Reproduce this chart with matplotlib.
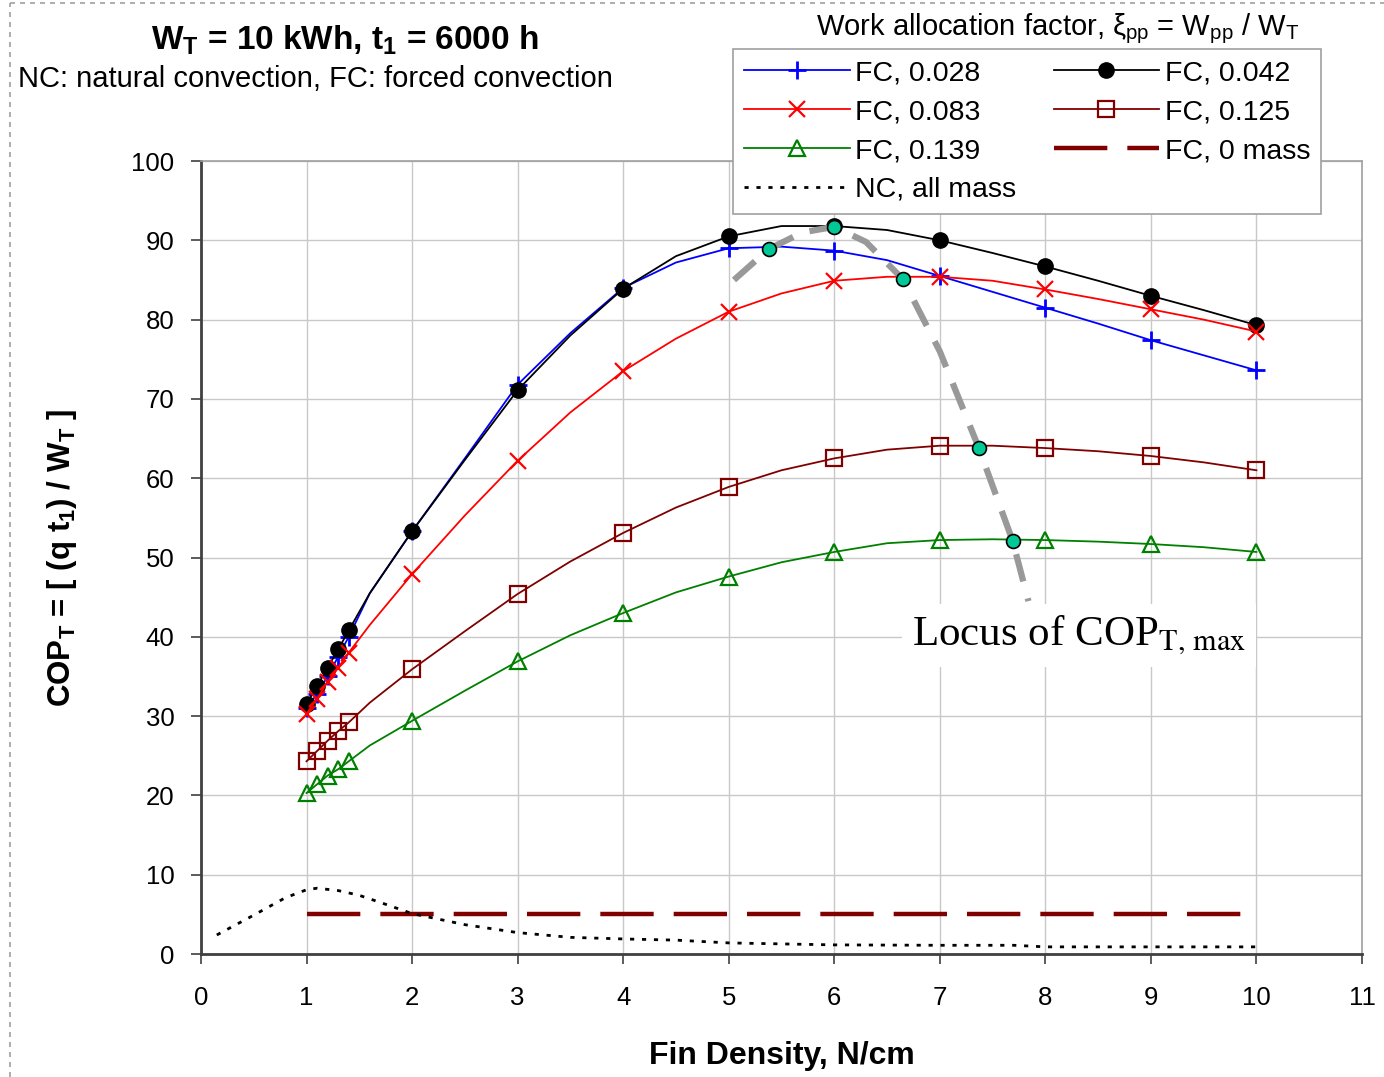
#!/usr/bin/env python3
"""COP_T versus fin density for forced and natural convection."""

import matplotlib
matplotlib.use('Agg')
import matplotlib.pyplot as plt
from matplotlib.lines import Line2D

plt.rcParams['font.family'] = ['Liberation Sans', 'DejaVu Sans']
plt.rcParams['mathtext.fontset'] = 'custom'
plt.rcParams['mathtext.rm'] = 'Liberation Sans'
plt.rcParams['mathtext.it'] = 'Liberation Sans'
plt.rcParams['mathtext.bf'] = 'Liberation Sans:bold'

# Fin density grid for the forced convection curves (N/cm)
fin_density = [1.0, 1.1, 1.2, 1.3, 1.4, 1.6, 2.0, 2.5, 3.0, 3.5, 4.0, 4.5, 5.0,
               5.5, 6.0, 6.5, 7.0, 7.5, 8.0, 8.5, 9.0, 9.5, 10.0]
marked = [1.0, 1.1, 1.2, 1.3, 1.4, 2.0, 3.0, 4.0, 5.0, 6.0, 7.0, 8.0, 9.0, 10.0]

cop_028 = [31.0, 32.8, 35.0, 37.5, 40.0, 45.5, 53.3, 62.5, 71.8, 78.3, 84.0, 87.2,
           89.0, 89.2, 88.7, 87.5, 85.5, 83.5, 81.5, 79.5, 77.4, 75.5, 73.6]
cop_042 = [31.5, 33.8, 36.1, 38.4, 40.8, 45.5, 53.3, 62.3, 71.1, 78.0, 83.9, 88.0,
           90.5, 91.8, 91.8, 91.3, 90.0, 88.4, 86.7, 84.9, 83.0, 81.2, 79.3]
cop_083 = [30.3, 32.2, 34.3, 36.1, 38.0, 41.5, 47.9, 55.3, 62.2, 68.3, 73.5, 77.6,
           81.0, 83.3, 84.9, 85.4, 85.4, 84.9, 83.8, 82.6, 81.3, 80.0, 78.5]
cop_125 = [24.3, 25.6, 26.9, 28.1, 29.2, 31.7, 35.9, 40.7, 45.4, 49.5, 53.1, 56.3,
           58.9, 61.0, 62.5, 63.6, 64.1, 64.1, 63.8, 63.4, 62.8, 62.0, 61.0]
cop_139 = [20.3, 21.4, 22.5, 23.3, 24.3, 26.3, 29.4, 33.2, 36.9, 40.2, 43.0, 45.6,
           47.6, 49.4, 50.7, 51.8, 52.2, 52.3, 52.2, 52.0, 51.7, 51.3, 50.7]

# FC with zero mass
zero_mass_x = [1.0, 10.0]
zero_mass_y = [5.0, 5.0]

# NC, all mass
nc_x = [0.15, 0.5, 0.8, 1.0, 1.1, 1.3, 1.5, 1.7, 2.0, 2.5, 3.0, 3.5, 4.0, 4.5,
        5.0, 6.0, 7.0, 7.7, 8.0, 9.0, 10.0]
nc_y = [2.4, 4.9, 7.1, 8.1, 8.3, 8.0, 7.4, 6.5, 5.1, 3.7, 2.7, 2.1, 1.9, 1.75,
        1.4, 1.15, 1.1, 1.1, 0.9, 0.9, 0.9]

# Locus of COP_T,max
locus_x = [5.05, 5.38, 5.7, 6.0, 6.3, 6.65, 7.0, 7.37, 7.69, 7.84]
locus_y = [85.0, 88.9, 91.0, 91.7, 89.8, 85.1, 76.0, 63.8, 52.1, 44.5]
peak_x = [5.38, 6.0, 6.65, 7.37, 7.69]
peak_y = [88.9, 91.7, 85.1, 63.8, 52.1]

x_ticks = list(range(0, 12))
y_ticks = list(range(0, 101, 10))


def main():
    fig = plt.figure(figsize=(13.84, 10.77), dpi=100)
    ax = fig.add_axes([0.1452, 0.1142, 0.8389, 0.7363])

    mark_idx = [fin_density.index(v) for v in marked]
    lw = 1.3
    series = [
        (cop_028, '#0000FF', dict(marker='+', ms=13, mew=2.0, mfc='none')),
        (cop_042, 'black', dict(marker='o', ms=11, mfc='black')),
        (cop_083, '#FF0000', dict(marker='x', ms=11, mew=1.6)),
        (cop_125, '#800000', dict(marker='s', ms=11, mew=1.6, mfc='none')),
        (cop_139, '#008000', dict(marker='^', ms=11, mew=1.6, mfc='none')),
    ]
    lines = []
    for y, c, mk in series:
        ln, = ax.plot(fin_density, y, color=c, lw=lw, markevery=mark_idx,
                      mec=c, zorder=4, **mk)
        lines.append(ln)

    ln_zero, = ax.plot(zero_mass_x, zero_mass_y, color='#800000', lw=3.2,
                       dashes=(12, 4.5), zorder=3)
    ln_nc, = ax.plot(nc_x, nc_y, color='black', lw=2.0, dashes=(1.5, 2.8), zorder=3)

    ax.plot(locus_x, locus_y, color='#999999', lw=4.5, dashes=(4.5, 2.8),
            solid_capstyle='butt', zorder=5)
    ax.plot(peak_x, peak_y, ls='none', marker='o', ms=10, mfc='#00C896',
            mec='black', mew=1.2, zorder=6)

    ax.text(8.32, 40.2, r'Locus of COP$_{\mathrm{T,\,max}}$', ha='center', va='center',
            fontsize=31, family=['Liberation Serif', 'DejaVu Serif'],
            math_fontfamily='stix', zorder=7,
            bbox=dict(facecolor='white', edgecolor='none', pad=7))

    ax.set_xlim(0, 11)
    ax.set_ylim(0, 100)
    ax.set_xticks(x_ticks)
    ax.set_yticks(y_ticks)
    ax.grid(True, color='#C8C8C8', lw=1.0)
    ax.set_axisbelow(True)
    ax.tick_params(labelsize=18.5, length=7, width=1.2, color='#404040')
    ax.tick_params(axis='y', pad=12)
    ax.tick_params(axis='x', pad=16)
    for side in ['left', 'bottom']:
        ax.spines[side].set_color('#404040')
        ax.spines[side].set_linewidth(2.0)
    for side in ['top', 'right']:
        ax.spines[side].set_color('#A0A0A0')
        ax.spines[side].set_linewidth(1.2)

    ax.set_xlabel('Fin Density, N/cm', fontsize=23, fontweight='bold', labelpad=22)
    ax.set_ylabel(r'COP$_\mathbf{T}$ = [ (q t$_\mathbf{1}$) / W$_\mathbf{T}$ ]',
                  fontsize=22.5, fontweight='bold', labelpad=38)

    fig.text(0.249, 0.963, r'W$_\mathbf{T}$ = 10 kWh, t$_\mathbf{1}$ = 6000 h',
             ha='center', va='center', fontsize=24, fontweight='bold')
    fig.text(0.013, 0.927, 'NC: natural convection, FC: forced convection',
             ha='left', va='center', fontsize=21)
    fig.text(0.764, 0.973, r'Work allocation factor, $\xi_{pp}$ = W$_{pp}$ / W$_T$',
             ha='center', va='center', fontsize=21)

    handles = [lines[0], lines[2], lines[4], ln_nc, lines[1], lines[3], ln_zero]
    labels = ['FC, 0.028', 'FC, 0.083', 'FC, 0.139', 'NC, all mass',
              'FC, 0.042', 'FC, 0.125', 'FC, 0 mass']
    leg = fig.legend(handles, labels, loc='upper left',
                     bbox_to_anchor=(0.5296, 0.9545), borderaxespad=0.0,
                     ncol=2, fontsize=20.5,
                     handlelength=3.7, handletextpad=0.2, columnspacing=1.3,
                     labelspacing=0.45, borderpad=0.4, fancybox=False,
                     framealpha=1.0, edgecolor='#A0A0A0', markerscale=1.0)
    leg.get_frame().set_linewidth(1.2)
    leg.set_zorder(10)

    # dashed chart-area border
    fig.add_artist(Line2D([0.0072, 1.0], [0.9972, 0.9972], color='#A0A0A0',
                          lw=1.2, ls=(0, (3, 3))))
    fig.add_artist(Line2D([0.0072, 0.0072], [0.0, 0.9972], color='#A0A0A0',
                          lw=1.2, ls=(0, (3, 3))))

    fig.savefig('out.png', dpi=100)


if __name__ == '__main__':
    main()
